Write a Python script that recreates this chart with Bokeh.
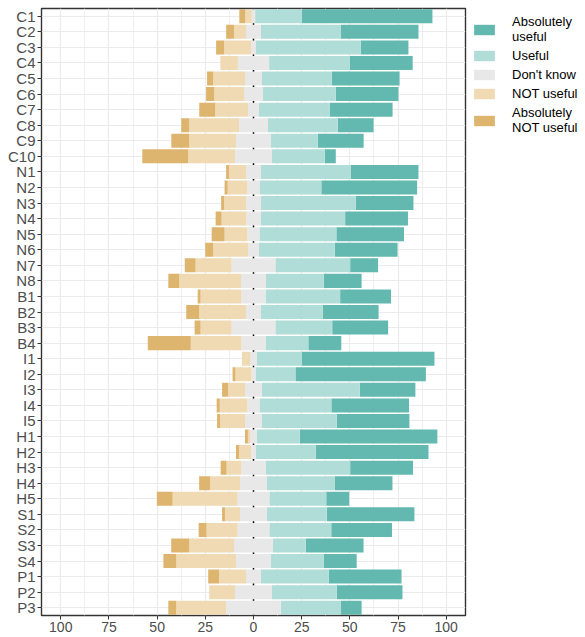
import numpy as np
from bokeh.plotting import figure
from bokeh.models import FactorRange, Range1d, FixedTicker, Legend, LegendItem, Span
from bokeh.embed import file_html
from bokeh.resources import INLINE

cats = ["C1", "C2", "C3", "C4", "C5", "C6", "C7", "C8", "C9", "C10",
        "N1", "N2", "N3", "N4", "N5", "N6", "N7", "N8",
        "B1", "B2", "B3", "B4",
        "I1", "I2", "I3", "I4", "I5",
        "H1", "H2", "H3", "H4", "H5",
        "S1", "S2", "S3", "S4",
        "P1", "P2", "P3"]

abs_not = [3.1, 4.1, 4.1, 0, 3.1, 4.2, 8.3, 4.1, 9.3, 23.8,
           1.5, 1.6, 1.5, 3.1, 6.7, 4.1, 5.6, 5.7,
           1.5, 6.7, 3.1, 22.3,
           0, 1.5, 3.1, 1.6, 1.6,
           1.5, 1.6, 3.1, 5.7, 8.2,
           1.5, 4.1, 9.3, 6.7,
           5.6, 0, 4.1]
not_useful = [3.4, 6.2, 14.0, 9.1, 16.6, 15.5, 17.0, 25.9, 24.3, 24.3,
              8.8, 10.3, 11.4, 12.9, 11.9, 18.1, 18.7, 32.0,
              21.2, 24.3, 16.1, 26.3,
              4.2, 8.3, 8.8, 14.4, 12.9,
              1.1, 6.2, 7.7, 15.5, 33.7,
              7.8, 16.1, 23.3, 31.0,
              14.0, 13.4, 25.9]
dont_know = [1.7, 7.8, 2.6, 16.2, 8.8, 9.8, 5.7, 15.0, 18.1, 19.2,
             7.8, 6.2, 7.8, 7.3, 6.2, 5.7, 22.7, 13.0,
             12.5, 7.8, 22.7, 12.5,
             3.6, 2.1, 8.8, 6.2, 8.8,
             3.6, 2.6, 12.5, 14.0, 16.5,
             14.0, 16.5, 20.2, 18.1,
             7.8, 19.2, 28.4]
useful = [24.3, 41.3, 54.3, 41.9, 36.2, 37.8, 36.8, 36.2, 24.3, 27.4,
          46.5, 32.1, 49.1, 43.9, 39.9, 39.3, 38.8, 30.0,
          38.7, 32.0, 29.5, 22.2,
          23.3, 20.7, 50.7, 37.3, 38.8,
          22.2, 31.0, 43.9, 35.1, 29.5,
          31.0, 32.1, 17.0, 27.5,
          35.1, 33.6, 31.0]
abs_useful = [67.7, 40.4, 24.8, 32.6, 35.2, 32.5, 32.5, 18.6, 23.8, 5.7,
              35.2, 49.7, 30.0, 32.6, 35.1, 32.6, 14.5, 19.6,
              26.4, 29.0, 29.0, 17.1,
              68.8, 67.7, 28.9, 40.3, 37.7,
              71.4, 58.5, 32.6, 30.0, 11.9,
              45.5, 31.5, 30.0, 17.0,
              37.8, 34.1, 10.9]

x_ticks = [-100, -75, -50, -25, 0, 25, 50, 75, 100]
x_tick_labels = ["100", "75", "50", "25", "0", "25", "50", "75", "100"]

labels = ["Absolutely\nuseful", "Useful", "Don't know", "NOT useful", "Absolutely\nNOT useful"]
colors = ["#63B9B0", "#B1DDD8", "#E8E8E8", "#F0DAB4", "#DEB56E"]

an = np.array(abs_not, dtype=float)
nu = np.array(not_useful, dtype=float)
dk = np.array(dont_know, dtype=float)
us = np.array(useful, dtype=float)
au = np.array(abs_useful, dtype=float)

half = dk / 2.0
dk_l, dk_r = -half, half
nu_l, nu_r = -half - nu, -half
an_l, an_r = nu_l - an, nu_l
us_l, us_r = half, half + us
au_l, au_r = us_r, us_r + au

font = "Liberation Sans"

p = figure(frame_width=424, frame_height=607,
           y_range=FactorRange(factors=cats[::-1], range_padding=0.0),
           x_range=Range1d(-110, 110),
           output_backend="svg", toolbar_location=None,
           min_border_left=41, min_border_top=8, min_border_bottom=2, min_border_right=2)

p.background_fill_color = "white"
p.border_fill_color = "white"
p.outline_line_color = "#333333"
p.outline_line_width = 1.4

zero = Span(location=0, dimension="height", line_color="black", line_width=1.5)
zero.level = "underlay"
p.add_layout(zero)

bh = 0.9
r_au = p.hbar(y=cats, left=au_l, right=au_r, height=bh, fill_color=colors[0], line_color=None)
r_us = p.hbar(y=cats, left=us_l, right=us_r, height=bh, fill_color=colors[1], line_color=None)
r_dk = p.hbar(y=cats, left=dk_l, right=dk_r, height=bh, fill_color=colors[2], line_color=None)
r_nu = p.hbar(y=cats, left=nu_l, right=nu_r, height=bh, fill_color=colors[3], line_color=None)
r_an = p.hbar(y=cats, left=an_l, right=an_r, height=bh, fill_color=colors[4], line_color=None)

ticker = FixedTicker(ticks=x_ticks,
                     minor_ticks=[-87.5, -62.5, -37.5, -12.5, 12.5, 37.5, 62.5, 87.5])
p.xaxis.ticker = ticker
p.xaxis.major_label_overrides = {t: l for t, l in zip(x_ticks, x_tick_labels)}

for ax in (p.xaxis[0], p.yaxis[0]):
    ax.axis_line_color = None
    ax.major_tick_line_color = "#333333"
    ax.major_tick_out = 4
    ax.major_tick_in = 0
    ax.minor_tick_line_color = None
    ax.major_label_text_color = "#4D4D4D"
    ax.major_label_text_font = font
    ax.major_label_standoff = 2

p.xaxis.major_label_text_font_size = "14px"
p.yaxis.major_label_text_font_size = "15px"

p.xgrid.grid_line_color = "#EBEBEB"
p.xgrid.grid_line_width = 1.2
p.xgrid.minor_grid_line_color = "#EFEFEF"
p.xgrid.minor_grid_line_width = 1.0
p.ygrid.grid_line_color = "#EBEBEB"
p.ygrid.grid_line_width = 1.2

items = [LegendItem(label=labels[0], renderers=[r_au]),
         LegendItem(label=labels[1], renderers=[r_us]),
         LegendItem(label=labels[2], renderers=[r_dk]),
         LegendItem(label=labels[3], renderers=[r_nu]),
         LegendItem(label=labels[4], renderers=[r_an])]
legend = Legend(items=items, location="top_left")
legend.label_text_font = font
legend.label_text_font_size = "13px"
legend.label_text_color = "black"
legend.glyph_width = 26
legend.glyph_height = 13
legend.spacing = 4
legend.padding = 2
legend.margin = 6
legend.label_standoff = 15
legend.border_line_color = None
legend.background_fill_alpha = 0
p.add_layout(legend, "right")

open("out.html", "w").write(file_html(p, INLINE))
